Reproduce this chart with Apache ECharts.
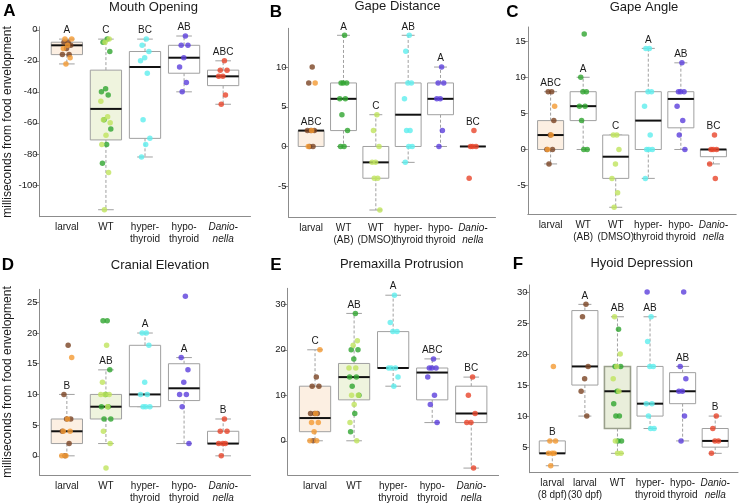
<!DOCTYPE html>
<html><head><meta charset="utf-8">
<script src="https://cdn.jsdelivr.net/npm/echarts@6/dist/echarts.min.js"></script>
<style>html,body{margin:0;padding:0;background:#fff}#c{width:741px;height:504px}</style>
</head><body><div id="c"></div>
<script>
// ---------------- DATA ----------------
// box stats per group: [lower whisker, Q1, median, Q3, upper whisker]
const catsA = ['larval','WT','hyper-\nthyroid','hypo-\nthyroid','Danio-\nnella'];
const boxA = [[-22,-16,-10,-8,-6],[-116,-71,-51,-26,-6],[-82,-70,-24,-14,-6],[-40,-28,-18,-10,-4],[-48,-36,-30,-26,-20]];
const lettersA = ['A','C','BC','AB','ABC'];
const letterAtA = [-6,-6,-6,-4,-20];
const darkA = [[-8,-8,-10,-12,-16,-16],[-6,-8,-14,-38,-40,-42,-58,-64,-74,-86],[-6,-10,-14,-18,-20,-28,-58,-70,-74,-82],[-4,-10,-10,-18,-24,-34,-40],[-20,-26,-26,-30,-30,-42,-48]];
const lightA = [[-6,-6,-10,-12,-18,-22],[-6,-8,-46,-56,-58,-60,-68,-74,-92,-116],[],[],[]];
const ticksA = [0,-20,-40,-60,-80,-100];

const catsB = ['larval','WT\n(AB)','WT\n(DMSO)','hyper-\nthyroid','hypo-\nthyroid','Danio-\nnella'];
const boxB = [[0,0,2,2,2],[0,2,6,8,14],[-8,-4,-2,0,4],[-2,0,4,8,14],[0,4,6,8,10],[0,0,0,0,0]];
const lettersB = ['ABC','A','C','AB','A','BC'];
const letterAtB = [2,14,4,14,10,2];
const darkB = [[10,8,2,2,2,0,0],[14,8,8,8,6,6,4,2,0,0],[4,2,0,-2,-2,-4,-4,-8],[14,12,8,8,6,2,2,0,0,-2],[10,8,8,6,6,2,0],[2,0,0,0,-4]];
const lightB = [[8,2,0],[],[],[],[],[]];
const ticksB = [10,5,0,-5];

const catsC = ['larval','WT\n(AB)','WT\n(DMSO)','hyper-\nthyroid','hypo-\nthyroid','Danio-\nnella'];
const boxC = [[-2,0,2,4,8],[0,4,6,8,10],[-8,-4,-1,2,2],[-4,0,4,8,14],[0,3,7,8,12],[-2,-1,0,0,0]];
const lettersC = ['ABC','A','C','A','AB','BC'];
const letterAtC = [8,10,2,14,12,2];
const darkC = [[8,8,4,2,0,0,-2],[16,10,8,8,6,6,4,0,0],[2,2,0,-2,-4,-6,-8],[14,14,8,8,6,2,0,0,0,-4],[12,8,8,8,6,4,2,0],[2,0,0,0,-2,-4]];
const lightC = [[6,2,0],[],[],[],[],[]];
const ticksC = [15,10,5,0,-5];

const catsD = ['larval','WT','hyper-\nthyroid','hypo-\nthyroid','Danio-\nnella'];
const boxD = [[0,2,4,6,10],[2,6,8,10,14],[8,8,10,18,20],[2,9,11,15,16],[0,2,2,4,6]];
const lettersD = ['B','AB','A','A','B'];
const letterAtD = [10,14,20,16,6];
const darkD = [[18,10,6,6,4,2,0],[22,22,14,10,8,8,6,6],[20,20,18,12,10,10,8,8,8],[26,16,14,12,10,10,8,2],[6,4,4,2,2,2,0]];
const lightD = [[16,6,4,4,0,0],[18,12,10,10,10,8,4,2,-2],[],[],[]];
const ticksD = [25,20,15,10,5,0];

const catsE = ['larval','WT','hyper-\nthyroid','hypo-\nthyroid','Danio-\nnella'];
const boxE = [[0,2,5,12,20],[0,9,14,17,28],[12,16,16,24,32],[4,9,15,16,18],[-6,4,6,12,14]];
const lettersE = ['C','AB','A','ABC','BC'];
const letterAtE = [20,28,32,18,14];
const darkE = [[14,12,12,6,6,6,0],[28,20,20,18,14,14,12,10,6,2],[32,26,24,24,16,16,16,14,12],[18,16,16,16,14,10,8,4],[14,10,6,4,4,-6]];
const lightE = [[20,6,4,4,2,0,0],[22,21,16,16,10,10,8,4,0],[],[],[]];
const ticksE = [30,20,10,0];

const catsF = ['larval\n(8 dpf)','larval\n(30 dpf)','WT','hyper-\nthyroid','hypo-\nthyroid','Danio-\nnella'];
const boxF = [[2,4,4,6,6],[10,15,18,27,28],[4,8,14,18,26],[8,10,12,18,26],[6,12,14,17,18],[4,5,6,8,10]];
const lettersF = ['B','A','AB','AB','AB','B'];
const letterAtF = [6,28,26,26,18,10];
const darkF = [[18,6,6,4,4,4,2],[28,26,18,16,14,10],[24,18,18,14,12,10,10,6,6],[26,22,18,18,12,12,10,8,8],[30,18,16,14,14,10,6],[10,8,6,6,4]];
const lightF = [[],[],[26,20,18,16,14,6,4,4],[30],[],[]];
const ticksF = [30,25,20,15,10,5];

const titles = ['Mouth Opening','Gape Distance','Gape Angle','Cranial Elevation','Premaxilla Protrusion','Hyoid Depression'];
const panelLetters = ['A','B','C','D','E','F'];
const yName = 'milliseconds from food envelopment';

// ---------------- STYLE / LAYOUT ----------------
const FONT = '"Liberation Sans", Arial, Helvetica, sans-serif';
const BROWN='#7b4423', ORANGE='#f49a32', DKG='#2fa52f', LTG='#bfe45c', CYAN='#5eeeee', PURPLE='#5b3fdc', RED='#e9452b';
const PEACH='#fcefe2', PGREEN='#eff4de', FGREEN='#e9eedb', WHITE='#ffffff';

const layout = [
  {left:39.5, top:26.7, width:211, height:190, range:[-120.5,2]},
  {left:288.5, top:28.3, width:207, height:188.7, range:[-8.88,14.88]},
  {left:527.8, top:27, width:208.4, height:187.2, range:[-8.96,16.96]},
  {left:39.5, top:289.3, width:211, height:187.4, range:[-3.12,27.12]},
  {left:287.7, top:288.3, width:210.9, height:187, range:[-7.52,33.52]},
  {left:529.5, top:285, width:208.5, height:187.7, range:[0.88,31.12]}
];
const titlePos = [[153.5,7.5],[397.5,6.5],[644,7],[160,265],[401.7,264],[641.7,263]];
const letterPos = [[9.5,11.5],[276,12],[512.5,12],[8,265.5],[276,265],[518,264]];

const panels = [
  {cats:catsA, box:boxA, letters:lettersA, letterAt:letterAtA, dark:darkA, light:lightA, ticks:ticksA,
   darkCol:[BROWN,DKG,CYAN,PURPLE,RED], lightCol:[ORANGE,LTG,CYAN,PURPLE,RED], fill:[PEACH,PGREEN,WHITE,WHITE,WHITE]},
  {cats:catsB, box:boxB, letters:lettersB, letterAt:letterAtB, dark:darkB, light:lightB, ticks:ticksB,
   darkCol:[BROWN,DKG,LTG,CYAN,PURPLE,RED], lightCol:[ORANGE,DKG,LTG,CYAN,PURPLE,RED], fill:[PEACH,WHITE,WHITE,WHITE,WHITE,WHITE]},
  {cats:catsC, box:boxC, letters:lettersC, letterAt:letterAtC, dark:darkC, light:lightC, ticks:ticksC,
   darkCol:[BROWN,DKG,LTG,CYAN,PURPLE,RED], lightCol:[ORANGE,DKG,LTG,CYAN,PURPLE,RED], fill:[PEACH,WHITE,WHITE,WHITE,WHITE,WHITE]},
  {cats:catsD, box:boxD, letters:lettersD, letterAt:letterAtD, dark:darkD, light:lightD, ticks:ticksD,
   darkCol:[BROWN,DKG,CYAN,PURPLE,RED], lightCol:[ORANGE,LTG,CYAN,PURPLE,RED], fill:[PEACH,PGREEN,WHITE,WHITE,WHITE]},
  {cats:catsE, box:boxE, letters:lettersE, letterAt:letterAtE, dark:darkE, light:lightE, ticks:ticksE,
   darkCol:[BROWN,DKG,CYAN,PURPLE,RED], lightCol:[ORANGE,LTG,CYAN,PURPLE,RED], fill:[PEACH,PGREEN,WHITE,WHITE,WHITE]},
  {cats:catsF, box:boxF, letters:lettersF, letterAt:letterAtF, dark:darkF, light:lightF, ticks:ticksF,
   darkCol:[ORANGE,BROWN,DKG,CYAN,PURPLE,RED], lightCol:[ORANGE,BROWN,LTG,PURPLE,PURPLE,RED], fill:[WHITE,WHITE,FGREEN,WHITE,WHITE,WHITE]}
];

function jit(k){ return (((k+1)*0.618034) % 1 - 0.5) * 0.28; }

const grids=[], xAxes=[], yAxes=[], series=[], graphics=[];
panels.forEach((P, i) => {
  const L = layout[i], n = P.cats.length;
  grids.push({left:L.left, top:L.top, width:L.width, height:L.height});
  const idx = P.cats.map((_, j) => j+1);
  xAxes.push({type:'value', gridIndex:i, min:0.3, max:n+0.7,
    axisLine:{show:true, onZero:false, lineStyle:{color:'#8c8c8c', width:1}},
    axisTick:{show:false}, splitLine:{show:false},
    axisLabel:{customValues:idx, margin:5, fontSize:10, lineHeight:12, color:'#1a1a1a', fontFamily:FONT,
      formatter: v => { const c = P.cats[Math.round(v)-1] || ''; return c.startsWith('Danio') ? c.split('\n').map(s=>'{i|'+s+'}').join('\n') : c; },
      rich:{i:{fontStyle:'italic', fontSize:10, lineHeight:12, color:'#1a1a1a', fontFamily:FONT}}}
  });
  yAxes.push({type:'value', gridIndex:i, min:L.range[0], max:L.range[1],
    axisLine:{show:true, onZero:false, lineStyle:{color:'#8c8c8c', width:1}},
    axisTick:{show:true, length:5, customValues:P.ticks, lineStyle:{color:'#8c8c8c'}},
    axisLabel:{customValues:P.ticks, margin:2, fontSize:9.5, color:'#1a1a1a', fontFamily:FONT},
    splitLine:{show:false}
  });
  // boxes
  series.push({type:'custom', xAxisIndex:i, yAxisIndex:i, z:2, silent:true,
    data: P.box.map((b, j) => [j+1].concat(b)),
    renderItem: (params, api) => {
      const j = params.dataIndex;
      const x = api.value(0), lo=api.value(1), q1=api.value(2), med=api.value(3), q3=api.value(4), hi=api.value(5);
      const tl = api.coord([x-0.4, q3]), br = api.coord([x+0.4, q1]);
      const pLo = api.coord([x, lo]), pHi = api.coord([x, hi]);
      const cl = api.coord([x-0.2, med])[0], cr = api.coord([x+0.2, med])[0];
      const pm = api.coord([x, med]);
      const isF = P.fill[j] === FGREEN;
      const stroke = isF ? '#9aa08c' : '#a0a0a0';
      const wl = {stroke:'#a0a0a0', lineWidth:1, lineDash:[3,2]};
      return {type:'group', children:[
        {type:'line', shape:{x1:pHi[0], y1:tl[1], x2:pHi[0], y2:pHi[1]}, style:wl},
        {type:'line', shape:{x1:pLo[0], y1:br[1], x2:pLo[0], y2:pLo[1]}, style:wl},
        {type:'line', shape:{x1:cl, y1:pHi[1], x2:cr, y2:pHi[1]}, style:{stroke:'#a0a0a0', lineWidth:1}},
        {type:'line', shape:{x1:cl, y1:pLo[1], x2:cr, y2:pLo[1]}, style:{stroke:'#a0a0a0', lineWidth:1}},
        {type:'rect', shape:{x:tl[0], y:tl[1], width:br[0]-tl[0], height:br[1]-tl[1]}, style:{fill:P.fill[j], stroke:stroke, lineWidth:isF?1.6:1}},
        {type:'line', shape:{x1:tl[0], y1:pm[1], x2:br[0], y2:pm[1]}, style:{stroke:'#111', lineWidth:2}}
      ]};
    }
  });
  // points
  const dk=[], lt=[];
  P.dark.forEach((arr, j) => arr.forEach((v, k) => dk.push({value:[j+1+jit(k), v], itemStyle:{color:P.darkCol[j]}})));
  P.light.forEach((arr, j) => arr.forEach((v, k) => lt.push({value:[j+1+jit(k+P.dark[j].length), v], itemStyle:{color:P.lightCol[j]}})));
  [dk, lt].forEach(d => series.push({type:'scatter', xAxisIndex:i, yAxisIndex:i, z:3, silent:true,
    symbol:'circle', symbolSize:5.5, data:d}));
  // significance letters
  series.push({type:'custom', xAxisIndex:i, yAxisIndex:i, z:4, silent:true,
    data: P.letterAt.map((v, j) => [j+1, v]),
    renderItem: (params, api) => {
      const c = api.coord([api.value(0), api.value(1)]);
      return {type:'text', x:c[0], y:c[1]-8.5, style:{text:P.letters[params.dataIndex], align:'center', verticalAlign:'middle',
        textAlign:'center', textVerticalAlign:'middle', fontSize:10, fontFamily:FONT, fill:'#1a1a1a'}};
    }
  });
  graphics.push({type:'text', x:titlePos[i][0], y:titlePos[i][1], style:{text:titles[i], textAlign:'center', textVerticalAlign:'middle',
    align:'center', verticalAlign:'middle', font:'13px '+FONT, fill:'#1a1a1a'}});
  graphics.push({type:'text', x:letterPos[i][0], y:letterPos[i][1], style:{text:panelLetters[i], textAlign:'center', textVerticalAlign:'middle',
    align:'center', verticalAlign:'middle', font:'bold 17px '+FONT, fill:'#000'}});
});
[[8,122],[8,382]].forEach(p => graphics.push({type:'text', x:p[0], y:p[1], rotation:Math.PI/2,
  style:{text:yName, textAlign:'center', textVerticalAlign:'middle', align:'center', verticalAlign:'middle', font:'12px '+FONT, fill:'#1a1a1a'}}));

const chart = echarts.init(document.getElementById('c'), null, {renderer:'canvas'});
chart.setOption({animation:false, backgroundColor:'#fff', grid:grids, xAxis:xAxes, yAxis:yAxes, series:series, graphic:graphics});
</script></body></html>
